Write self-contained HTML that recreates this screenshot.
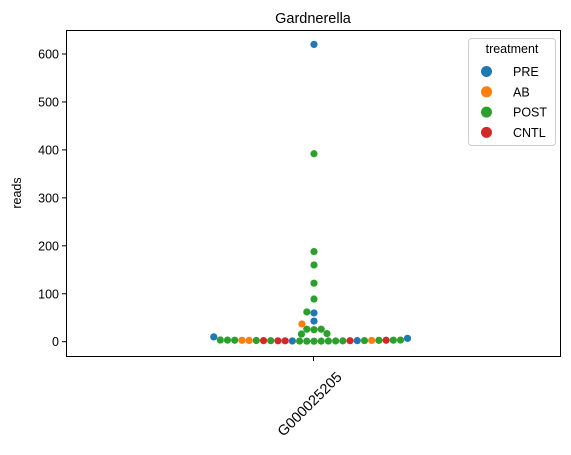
<!DOCTYPE html>
<html><head><meta charset="utf-8"><style>
body{margin:0;background:#fff}
svg{font-family:"Liberation Sans","DejaVu Sans",sans-serif}
</style></head><body>
<svg id="chart" width="571" height="450" viewBox="0 0 571 450" xmlns="http://www.w3.org/2000/svg">
<text x="313" y="23" font-size="14.5" text-anchor="middle" fill="#000">Gardnerella</text>
<text x="0" y="0" font-size="12.5" text-anchor="middle" transform="translate(21,193) rotate(-90)">reads</text>
<g id="yticks"></g>
<g id="xaxis"></g>
<g id="points"></g>
<rect x="66.5" y="30.5" width="494" height="326" fill="none" stroke="#000" stroke-width="1"/>
<g id="legend">
<rect x="468.5" y="38.5" width="87" height="107" rx="3" fill="#fff" fill-opacity="0.8" stroke="#ccc"/>
<text x="512" y="53" font-size="12.5" text-anchor="middle">treatment</text>
</g>
</svg>
<script>
const categories=["G000025205"];
const groups=["PRE","AB","POST","CNTL"];
const colors={PRE:"#1f77b4",AB:"#ff7f0e",POST:"#2ca02c",CNTL:"#d62728"};
const yTicks=[0,100,200,300,400,500,600];
const pointGroups=["POST","POST","POST","POST","POST","PRE","POST","POST","CNTL","CNTL","CNTL","POST","PRE","CNTL","POST","POST","AB","AB","POST","AB","CNTL","POST","POST","POST","POST","POST","PRE","PRE",
"PRE","POST","POST","POST","POST","POST","PRE","POST","PRE","POST","POST","POST","AB","POST","POST"];
const pointValues=[1,1.1,1.2,1.3,1.4,1.5,1.6,1.7,1.8,1.9,2.0,2.1,2.2,2.3,2.4,2.5,2.6,2.7,2.8,2.9,3.0,3.1,3.2,3.3,3.4,3.5,7,10,
620,392,188,160,122,89,60,62,43,25,26,26,37,16,17];

const NS="http://www.w3.org/2000/svg";
const y0=341.7,yScale=287.7/600;
function yPos(v){return y0-v*yScale;}
const xLeft=66.5,xRight=560.5;
function xPos(i){return xLeft+(xRight-xLeft)*(i+0.5)/categories.length+0.5;}
function mk(tag,attrs,parent){const e=document.createElementNS(NS,tag);for(const k in attrs)e.setAttribute(k,attrs[k]);parent.appendChild(e);return e;}

const yt=document.getElementById('yticks');
yTicks.forEach(t=>{
  const y=yPos(t);
  const l=mk('line',{x1:62,x2:66.5,y1:y,y2:y,stroke:'#000'},yt);
  
  
  const tx=mk('text',{x:59,y:y+4.5,'font-size':12.5,'text-anchor':'end'},yt);
  tx.textContent=t;
  
  
});
const xa=document.getElementById('xaxis');
categories.forEach((c,i)=>{
  const x=xPos(i)-0.5;
  const l=mk('line',{x1:x,x2:x,y1:356.5,y2:361,stroke:'#000'},xa);
  
  
  const tx=mk('text',{x:0,y:5,'font-size':14.5,'text-anchor':'middle',transform:`translate(${x-4},${404}) rotate(-45)`},xa);
  tx.textContent=c;
  
  
});

// beeswarm layout (placement in data order)
const D=7.2,R=3.6;
const pg=document.getElementById('points');
const placed=[];
const cx=xPos(0);
pointValues.forEach((v,i)=>{
  const y=yPos(v);
  const cands=[0];
  placed.forEach(p=>{const dy=p.y-y;if(Math.abs(dy)<D){const dx=Math.sqrt(D*D-dy*dy);cands.push(p.x+dx+0.01,p.x-dx-0.01);}});
  cands.sort((a,b)=>Math.abs(a)-Math.abs(b)||a-b);
  let off=0;
  for(const c of cands){if(placed.every(p=>(p.x-c)**2+(p.y-y)**2>=D*D-0.05)){off=c;break;}}
  placed.push({x:off,y:y});
  const g=pointGroups[i];
  const el=mk('circle',{cx:cx+off,cy:y,r:R,fill:colors[g]},pg);
  
  
});

const lg=document.getElementById('legend');
groups.forEach((g,k)=>{
  const y=71.5+k*20.3;
  const c=mk('circle',{cx:486.5,cy:y,r:5.5,fill:colors[g]},lg);
  
  
  const t=mk('text',{x:513,y:y+4.5,'font-size':12.5},lg);
  t.textContent=g;
  
  
});
</script>
</body></html>
